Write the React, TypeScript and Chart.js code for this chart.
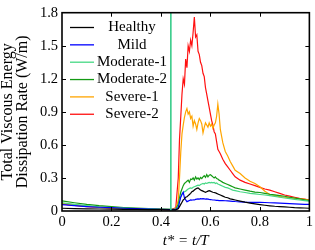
import React, { useEffect, useRef } from "react";
import { Chart, registerables } from "chart.js";

Chart.register(...registerables);

const T = [0, 0.05, 0.1, 0.15, 0.2, 0.25, 0.3, 0.35, 0.4, 0.44, 0.46, 0.47, 0.475, 0.48, 0.485, 0.49, 0.495, 0.5, 0.505, 0.51, 0.515, 0.52, 0.525, 0.53, 0.535, 0.54, 0.545, 0.55, 0.555, 0.56, 0.565, 0.57, 0.575, 0.58, 0.585, 0.59, 0.595, 0.6, 0.605, 0.61, 0.615, 0.62, 0.625, 0.63, 0.635, 0.64, 0.65, 0.66, 0.67, 0.68, 0.69, 0.7, 0.72, 0.74, 0.76, 0.78, 0.8, 0.82, 0.84, 0.86, 0.88, 0.9, 0.92, 0.94, 0.96, 0.98, 1.0];

const healthy = [0.025, 0.022, 0.02, 0.018, 0.017, 0.015, 0.014, 0.013, 0.012, 0.011, 0.011, 0.02, 0.04, 0.06, 0.08, 0.1, 0.11, 0.125, 0.13, 0.14, 0.15, 0.16, 0.175, 0.18, 0.19, 0.2, 0.205, 0.21, 0.2, 0.19, 0.185, 0.18, 0.175, 0.17, 0.175, 0.18, 0.185, 0.18, 0.175, 0.17, 0.168, 0.165, 0.16, 0.155, 0.15, 0.145, 0.135, 0.125, 0.12, 0.11, 0.105, 0.1, 0.09, 0.08, 0.072, 0.065, 0.058, 0.052, 0.047, 0.043, 0.04, 0.037, 0.034, 0.031, 0.029, 0.027, 0.025];

const mild = [0.058, 0.048, 0.04, 0.034, 0.03, 0.025, 0.021, 0.018, 0.015, 0.013, 0.013, 0.03, 0.08, 0.125, 0.15, 0.17, 0.12, 0.1, 0.085, 0.09, 0.095, 0.1, 0.098, 0.102, 0.1, 0.105, 0.108, 0.11, 0.108, 0.112, 0.11, 0.112, 0.11, 0.108, 0.11, 0.108, 0.105, 0.104, 0.102, 0.1, 0.1, 0.098, 0.097, 0.096, 0.095, 0.095, 0.094, 0.093, 0.092, 0.09, 0.088, 0.086, 0.083, 0.08, 0.078, 0.078, 0.079, 0.077, 0.075, 0.073, 0.071, 0.069, 0.067, 0.065, 0.063, 0.061, 0.06];

const moderate1 = [0.075, 0.06, 0.048, 0.038, 0.032, 0.026, 0.022, 0.019, 0.016, 0.014, 0.014, 0.04, 0.09, 0.13, 0.155, 0.165, 0.175, 0.18, 0.19, 0.2, 0.205, 0.21, 0.205, 0.215, 0.22, 0.225, 0.23, 0.235, 0.23, 0.24, 0.245, 0.25, 0.245, 0.255, 0.25, 0.255, 0.26, 0.255, 0.26, 0.255, 0.26, 0.25, 0.255, 0.245, 0.24, 0.235, 0.225, 0.215, 0.21, 0.2, 0.19, 0.185, 0.175, 0.168, 0.16, 0.155, 0.15, 0.145, 0.14, 0.132, 0.125, 0.118, 0.112, 0.106, 0.1, 0.095, 0.09];

const moderate2 = [0.092, 0.075, 0.06, 0.048, 0.04, 0.032, 0.026, 0.021, 0.017, 0.015, 0.016, 0.06, 0.12, 0.17, 0.2, 0.23, 0.25, 0.26, 0.27, 0.28, 0.26, 0.29, 0.285, 0.3, 0.28, 0.31, 0.29, 0.3, 0.285, 0.305, 0.295, 0.31, 0.32, 0.305, 0.33, 0.31, 0.325, 0.33, 0.32, 0.31, 0.3, 0.31, 0.295, 0.29, 0.28, 0.275, 0.26, 0.25, 0.24, 0.23, 0.22, 0.21, 0.2, 0.19, 0.18, 0.172, 0.168, 0.16, 0.152, 0.146, 0.14, 0.134, 0.125, 0.118, 0.11, 0.102, 0.095];

const severe1 = [0.07, 0.055, 0.044, 0.036, 0.03, 0.025, 0.021, 0.018, 0.015, 0.013, 0.015, 0.1, 0.3, 0.53, 0.7, 0.78, 0.85, 0.9, 0.93, 0.88, 0.9, 0.84, 0.86, 0.77, 0.82, 0.79, 0.74, 0.8, 0.84, 0.82, 0.79, 0.71, 0.76, 0.8, 0.78, 0.76, 0.8, 0.77, 0.79, 0.75, 0.78, 0.8, 0.86, 0.97, 0.88, 0.74, 0.62, 0.54, 0.5, 0.45, 0.41, 0.37, 0.34, 0.3, 0.27, 0.25, 0.22, 0.18, 0.15, 0.14, 0.13, 0.125, 0.12, 0.115, 0.11, 0.105, 0.1];

const severe2 = [0.065, 0.05, 0.04, 0.033, 0.028, 0.023, 0.02, 0.017, 0.014, 0.012, 0.03, 0.3, 0.65, 0.85, 1.06, 1.2, 1.15, 1.38, 1.3, 1.5, 1.45, 1.55, 1.5, 1.62, 1.76, 1.58, 1.6, 1.45, 1.42, 1.35, 1.32, 1.25, 1.22, 1.12, 1.06, 1.0, 0.94, 0.88, 0.82, 0.78, 0.72, 0.7, 0.63, 0.56, 0.54, 0.52, 0.47, 0.43, 0.4, 0.37, 0.34, 0.31, 0.28, 0.26, 0.245, 0.23, 0.215, 0.2, 0.19, 0.175, 0.16, 0.145, 0.135, 0.125, 0.115, 0.108, 0.1];

const markerT = [0.44, 0.44];
const markerY = [0, 1.8];

const seriesLabels = ["Healthy", "Mild", "Moderate-1", "Moderate-2", "Severe-1", "Severe-2"];
const seriesValues = [healthy, mild, moderate1, moderate2, severe1, severe2];
const seriesColors = ["#000000", "#0000ff", "#45d884", "#149a14", "#ffa500", "#ff1010"];

const xTicks = [0, 0.2, 0.4, 0.6, 0.8, 1];
const xTickLabels = ["0", "0.2", "0.4", "0.6", "0.8", "1"];
const yTicks = [0, 0.3, 0.6, 0.9, 1.2, 1.5, 1.8];
const yTickLabels = ["0", "0.3", "0.6", "0.9", "1.2", "1.5", "1.8"];

const SERIF = "'Liberation Serif', 'Times New Roman', serif";

const framePlugin = {
  id: "frame",
  afterDatasetsDraw(chart: any) {
    const { ctx, chartArea: a, scales } = chart;
    ctx.save();
    ctx.strokeStyle = "#000";
    ctx.lineWidth = 1;
    const tl = 4;
    ctx.beginPath();
    xTicks.forEach((v) => {
      if (v <= 0 || v >= 1) return;
      const px = Math.round(scales.x.getPixelForValue(v)) + 0.5;
      ctx.moveTo(px, a.bottom);
      ctx.lineTo(px, a.bottom - tl);
      ctx.moveTo(px, a.top);
      ctx.lineTo(px, a.top + tl);
    });
    yTicks.forEach((v) => {
      if (v <= 0 || v >= 1.8) return;
      const py = Math.round(scales.y.getPixelForValue(v)) + 0.5;
      ctx.moveTo(a.left, py);
      ctx.lineTo(a.left + tl, py);
      ctx.moveTo(a.right, py);
      ctx.lineTo(a.right - tl, py);
    });
    ctx.stroke();
    ctx.lineWidth = 1.6;
    ctx.strokeRect(a.left, a.top, a.right - a.left, a.bottom - a.top);
    ctx.restore();
  },
  afterDraw(chart: any) {
    const { ctx } = chart;
    ctx.save();
    ctx.font = "15px " + SERIF;
    ctx.textAlign = "center";
    ctx.textBaseline = "middle";
    const rowY0 = 27.5;
    const rowH = 17.35;
    seriesLabels.forEach((lab, i) => {
      const y = rowY0 + i * rowH;
      ctx.strokeStyle = seriesColors[i];
      ctx.lineWidth = 1.3;
      ctx.beginPath();
      ctx.moveTo(70, y);
      ctx.lineTo(94, y);
      ctx.stroke();
      ctx.fillStyle = "#000";
      ctx.fillText(lab, 132, y);
    });
    ctx.restore();
  },
};

export default function App() {
  const ref = useRef<HTMLCanvasElement | null>(null);
  useEffect(() => {
    if (!ref.current) return;
    const datasets: any[] = seriesLabels.map((lab, i) => ({
      label: lab,
      data: T.map((t, j) => ({ x: t, y: seriesValues[i][j] })),
      borderColor: seriesColors[i],
      borderWidth: 1.2,
      pointRadius: 0,
      fill: false,
      tension: 0,
    }));
    datasets.unshift({
      label: "onset",
      data: markerT.map((t, j) => ({ x: t, y: markerY[j] })),
      borderColor: "#38cc8a",
      borderWidth: 1.6,
      pointRadius: 0,
      fill: false,
    });
    const chart = new Chart(ref.current, {
      type: "line",
      data: { datasets },
      plugins: [framePlugin],
      options: {
        animation: false,
        responsive: false,
        layout: { padding: { top: 5, right: 2, left: 0, bottom: 0 } },
        plugins: { legend: { display: false }, tooltip: { enabled: false } },
        scales: {
          x: {
            type: "linear",
            min: 0,
            max: 1,
            afterFit: (s: any) => { s.height = 39; },
            afterBuildTicks: (s: any) => { s.ticks = xTicks.map((v) => ({ value: v })); },
            ticks: {
              callback: (v: any) => xTickLabels[xTicks.indexOf(Number(Number(v).toFixed(1)))] ?? "",
              color: "#000",
              font: { family: SERIF, size: 14.5 },
              padding: 2,
              maxRotation: 0,
            },
            grid: { display: false, drawTicks: false },
            border: { display: false },
            title: {
              display: true,
              text: "t* = t/T",
              color: "#000",
              font: { family: SERIF, size: 15, style: "italic" },
              padding: { top: 0, bottom: 0 },
            },
          },
          y: {
            type: "linear",
            min: 0,
            max: 1.8,
            afterFit: (s: any) => { s.width = 62; },
            afterBuildTicks: (s: any) => { s.ticks = yTicks.map((v) => ({ value: v })); },
            ticks: {
              callback: (v: any) => yTickLabels[yTicks.indexOf(Number(Number(v).toFixed(1)))] ?? "",
              color: "#000",
              font: { family: SERIF, size: 14.5 },
              padding: 4,
            },
            grid: { display: false, drawTicks: false },
            border: { display: false },
            title: {
              display: true,
              text: ["Total Viscous Energy", "Dissipation Rate (W/m)"],
              color: "#000",
              font: { family: SERIF, size: 16, lineHeight: 0.9 },
              padding: { top: 1, bottom: 0 },
            },
          },
        },
      } as any,
    });
    return () => chart.destroy();
  }, []);
  return (
    <div style={{ position: "absolute", left: 0, top: 0, width: 315, height: 250, background: "#fff" }}>
      <canvas ref={ref} width={315} height={250} />
    </div>
  );
}
